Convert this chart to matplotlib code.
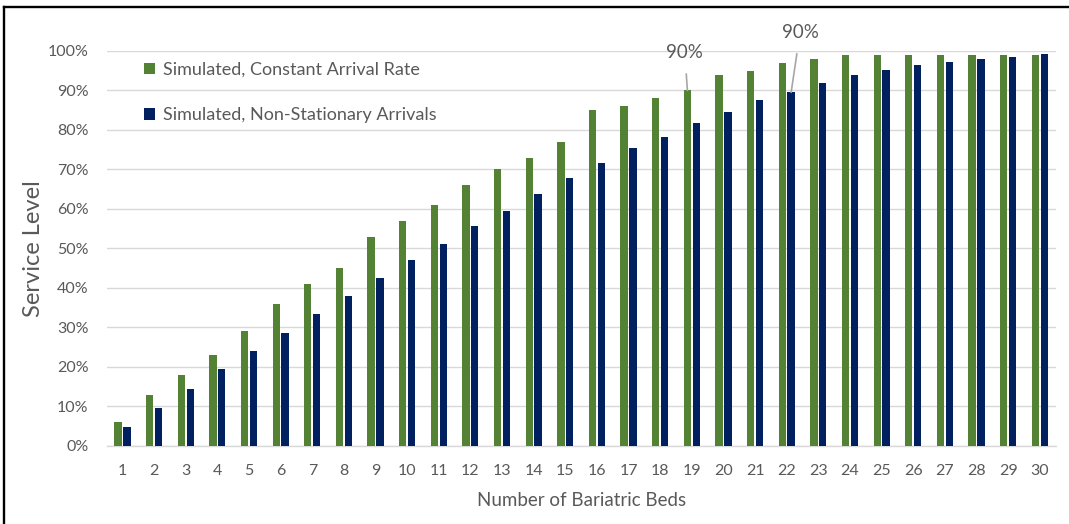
import matplotlib
matplotlib.use("Agg")
import matplotlib.pyplot as plt
from matplotlib.lines import Line2D
from matplotlib.patches import Patch
from matplotlib.ticker import PercentFormatter
import numpy as np

# Service level by number of bariatric beds
beds = list(range(1, 31))
constant_rate = [6, 13, 18, 23, 29, 36, 41, 45, 53, 57, 61, 66, 70, 73, 77,
                 85, 86, 88, 90, 94, 95, 97, 98, 99, 99, 99, 99, 99, 99, 99]
non_stationary = [4.7, 9.7, 14.5, 19.4, 24.0, 28.6, 33.3, 37.9, 42.6, 47.2,
                  51.2, 55.6, 59.5, 63.9, 67.9, 71.6, 75.4, 78.2, 81.8, 84.6,
                  87.5, 89.5, 92.0, 93.8, 95.3, 96.5, 97.2, 97.9, 98.6, 99.3]
series_names = ["Simulated, Constant Arrival Rate",
                "Simulated, Non-Stationary Arrivals"]
y_ticks = [0, 10, 20, 30, 40, 50, 60, 70, 80, 90, 100]

GREEN = "#548235"
NAVY = "#002060"
TEXT = "#595959"
GRID = "#d9d9d9"

plt.rcParams["font.family"] = ["Lato", "DejaVu Sans"]

fig = plt.figure(figsize=(10.69, 5.24), dpi=100)
ax = fig.add_axes([0.0998, 0.1489, 0.9874 - 0.0998, 0.9027 - 0.1489])

x = np.array(beds, dtype=float)
w = 0.23
off = 0.14
ax.bar(x - off, constant_rate, width=w, color=GREEN, zorder=3)
ax.bar(x + off, non_stationary, width=w, color=NAVY, zorder=3)

ax.set_xlim(0.5, 30.5)
ax.set_ylim(0, 100)
ax.set_yticks(y_ticks)
ax.yaxis.set_major_formatter(PercentFormatter(100, decimals=0))
ax.set_xticks(beds)
ax.set_xticklabels([str(b) for b in beds])
ax.grid(axis="y", color=GRID, linewidth=1.0, zorder=0)
for s in ["top", "right", "left"]:
    ax.spines[s].set_visible(False)
ax.spines["bottom"].set_color(GRID)
ax.spines["bottom"].set_linewidth(1.0)
ax.tick_params(axis="both", length=0, colors=TEXT, labelsize=11.5)
ax.tick_params(axis="x", pad=13)
ax.tick_params(axis="y", pad=13)

ax.set_ylabel("Service Level", color=TEXT, fontsize=17, labelpad=3)
ax.set_xlabel("Number of Bariatric Beds", color=TEXT, fontsize=13.5, labelpad=10)

# Callouts marking where each series reaches 90%
ax.annotate("90%", xy=(19 - off, constant_rate[18]), xytext=(18.78, 99.5),
            ha="center", va="center", color=TEXT, fontsize=13.5,
            arrowprops=dict(arrowstyle="-", color="#a6a6a6", lw=1.2,
                            shrinkA=7, shrinkB=0), annotation_clip=False)
ax.annotate("90%", xy=(22 + off, non_stationary[21]), xytext=(22.42, 104.6),
            ha="center", va="center", color=TEXT, fontsize=13.5,
            arrowprops=dict(arrowstyle="-", color="#a6a6a6", lw=1.2,
                            shrinkA=7, shrinkB=0), annotation_clip=False)

handles = [Patch(facecolor=GREEN), Patch(facecolor=NAVY)]
leg = ax.legend(handles, series_names, loc="upper left",
                bbox_to_anchor=(0.028, 1.0), frameon=False, fontsize=13,
                handlelength=0.62, handleheight=0.62, handletextpad=0.4,
                labelspacing=1.62, borderaxespad=0.2)
for t in leg.get_texts():
    t.set_color(TEXT)

# Partial frame along the top and left edges
fig.add_artist(Line2D([0.0035, 1.0], [1 - 7 / 524, 1 - 7 / 524],
                      transform=fig.transFigure, color="black", lw=1.7))
fig.add_artist(Line2D([4 / 1069, 4 / 1069], [0.0, 1 - 7 / 524],
                      transform=fig.transFigure, color="black", lw=1.7))

fig.savefig("out.png", dpi=100, facecolor="white")
